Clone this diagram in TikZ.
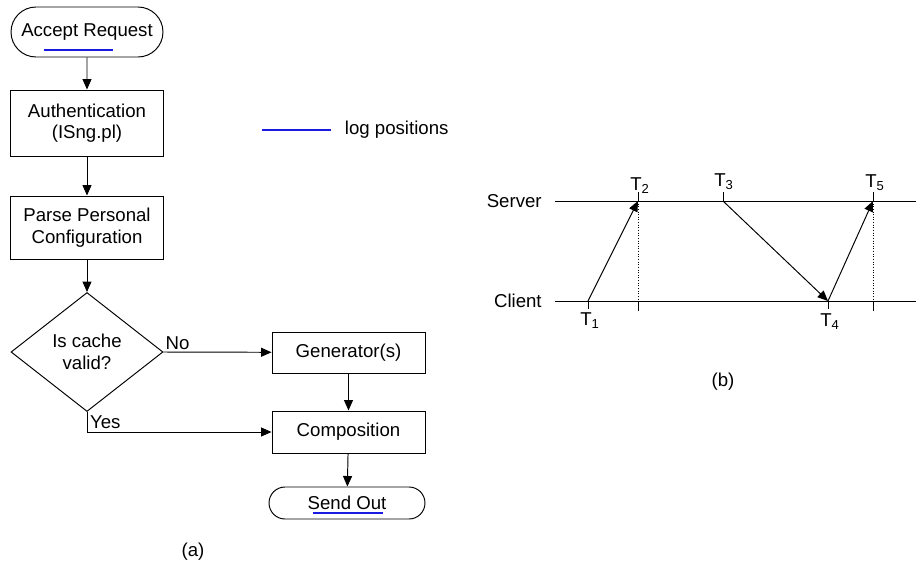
\documentclass[tikz,border=0pt]{standalone}
\usepackage{fontspec}
\setmainfont{Liberation Sans}
\usetikzlibrary{arrows.meta, shapes.misc, shapes.geometric, positioning}

\begin{document}
\begin{tikzpicture}[x=0.02cm, y=-0.02cm, line width=0.55pt,
    font=\fontsize{10.6}{12.2}\selectfont,
    box/.style={draw, rectangle, minimum width=3.06cm, align=center, inner sep=0pt},
    terminal/.style={draw, rounded rectangle, inner sep=0pt},
    decision/.style={draw, diamond, minimum width=3.04cm, minimum height=2.38cm, align=center, inner sep=0pt},
    flow/.style={-{Triangle[length=2.1mm,width=1.8mm]}},
    logmark/.style={draw=logColour, line width=1.1pt},
    tick/.style={line width=0.55pt}]

    \definecolor{logColour}{HTML}{1A1AE0}

    % Fix the page size
    \useasboundingbox (0,0) rectangle (916,575);

    % Flow chart (a)
    \node[terminal, minimum width=3.04cm, minimum height=1cm] (accept) at (87,32) {Accept Request};
    \node[box, minimum height=1.32cm] (auth) at (87,123) {Authentication\\(ISng.pl)};
    \node[box, minimum height=1.26cm] (parse) at (87,227.5) {Parse Personal\\Configuration};
    \node[decision] (cache) at (87,352) {Is cache\\valid?};
    \node[box, minimum height=0.82cm] (gen) at (348.5,352.5) {Generator(s)};
    \node[box, minimum height=0.84cm] (comp) at (348.5,432) {Composition};
    \node[terminal, minimum width=3.12cm, minimum height=0.64cm] (sendout) at (347,503) {Send Out};

    % Connectors
    \draw[flow] (accept) -- (auth);
    \draw[flow] (auth) -- (parse);
    \draw[flow] (parse) -- (cache);
    \draw[flow] (cache.east) -- node[pos=0, anchor=south west, inner sep=1pt] {No} (gen);
    \draw[flow] (gen) -- (comp);
    \draw[flow] (cache.south) |- node[pos=0.5, anchor=south west, inner sep=1.5pt] {Yes} (comp);
    \draw[flow] (comp) -- (sendout);

    % Log positions
    \draw[logmark] ([shift={(-43,18)}]accept.center) -- ++(69,0);
    \draw[logmark] ([shift={(-34,10)}]sendout.center) -- ++(70,0);

    % Legend
    \coordinate (legStart) at (262,130);
    \draw[logmark] (legStart) -- ++(69,0) node[anchor=west, inner sep=0pt, xshift=0.26cm, text=black] (legText) {log positions};

    \node (capA) at (193,552) {(a)};

    % Time diagram (b)
    \node[anchor=east] (server) at (548,201) {Server};
    \node[anchor=east] (client) at (548,301) {Client};
    \coordinate (serverEnd) at (916,201);
    \coordinate (clientEnd) at (916,301);
    \draw (server.east) ++(7,0) coordinate (serverStart) -- (serverEnd);
    \draw (client.east) ++(7,0) coordinate (clientStart) -- (clientEnd);

    % Time stamps
    \coordinate (t1) at (588,301);
    \coordinate (t2) at (638,201);
    \coordinate (t3) at (723,201);
    \coordinate (t4) at (828,301);
    \coordinate (t5) at (873,201);
    \coordinate (t2c) at (638,301);
    \coordinate (t5c) at (873,301);

    \foreach \t in {t2,t3,t5}
        \draw[tick] (\t) -- ++(0,-9);
    \foreach \t in {t1,t4}
        \draw[tick] (\t) -- ++(0,8);
    \foreach \t in {t2c,t5c}
        \draw[tick] (\t) -- ++(0,10);
    \draw[densely dotted, line width=0.5pt] (t2) -- (t2c);
    \draw[densely dotted, line width=0.5pt] (t5) -- (t5c);

    % Messages
    \draw[flow] (t1) -- (t2);
    \draw[flow] (t3) -- (t4);
    \draw[flow] (t4) -- (t5);

    % Labels
    \node (l1) at (590,321) {T\textsubscript{1}};
    \node (l2) at (640,186) {T\textsubscript{2}};
    \node (l3) at (724,182) {T\textsubscript{3}};
    \node (l4) at (830,322) {T\textsubscript{4}};
    \node (l5) at (875,183) {T\textsubscript{5}};

    \node (capB) at (723,382) {(b)};

\end{tikzpicture}
\end{document}
